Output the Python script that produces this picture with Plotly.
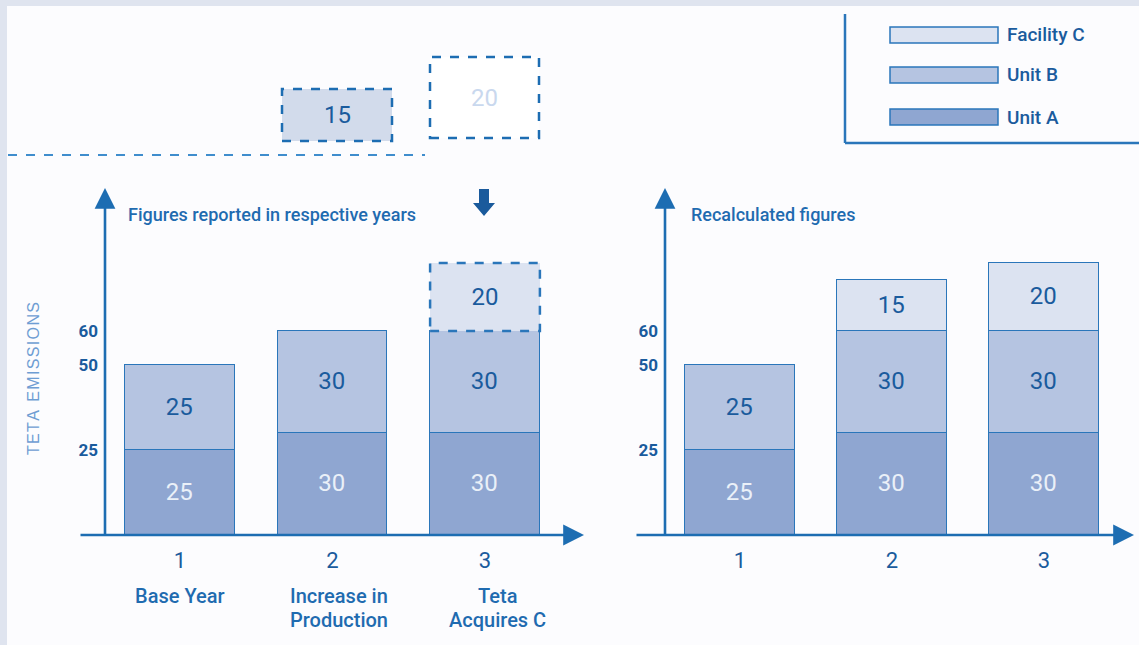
import plotly.graph_objects as go

W, H = 1139, 645

# ---------------- data ----------------
categories = ["1", "2", "3"]
descriptions = [["Base Year"], ["Increase in", "Production"], ["Teta", "Acquires C"]]
series_names = ["Unit A", "Unit B", "Facility C"]
reported_unit_a = [25, 30, 30]
reported_unit_b = [25, 30, 30]
reported_facility_c = [None, None, 20]
recalc_unit_a = [25, 30, 30]
recalc_unit_b = [25, 30, 30]
recalc_facility_c = [None, 15, 20]
y_tick_vals = [25, 50, 60]
acquired_figures = [15, 20]
panel_titles = ["Figures reported in respective years", "Recalculated figures"]
y_title = "TETA EMISSIONS"

# ---------------- style ----------------
UNIT_A = "#8fa6d1"
UNIT_B = "#b5c4e1"
FAC_C = "#dce3f1"
EDGE = "#2a76ba"
DARK = "#1a5b9d"
AXIS = "#1d6db2"
LIGHT_TXT = "#eaf0f8"
NARROW = "Roboto, Liberation Sans, sans-serif"
NUMF = "Roboto, Liberation Sans, sans-serif"
BAR_W = 0.72
xs = [1, 2, 3]
fills = [UNIT_A, UNIT_B, FAC_C]
txtcol = [LIGHT_TXT, DARK, DARK]


def px(x):
    return x / W


def py(y):
    return 1 - y / H


fig = go.Figure()

panels = [
    ("x", "y", [reported_unit_a, reported_unit_b, reported_facility_c]),
    ("x2", "y2", [recalc_unit_a, recalc_unit_b, recalc_facility_c]),
]
for pi, (xa, ya, series) in enumerate(panels):
    for si, vals in enumerate(series):
        dashed_top = (pi == 0 and si == 2)
        fig.add_trace(go.Bar(
            x=xs, y=vals, width=BAR_W, name=series_names[si],
            xaxis=xa, yaxis=ya, showlegend=False,
            marker=dict(color=fills[si],
                        line=dict(color=EDGE, width=0 if dashed_top else 1.5)),
            text=["" if v is None else str(v) for v in vals],
            textposition="inside", insidetextanchor="middle",
            textangle=0,
            textfont=dict(family=NUMF, size=24, color=txtcol[si]),
            hoverinfo="skip",
        ))

# dashed outline for the acquired facility in the reported panel
shapes = []
for i, c in enumerate(reported_facility_c):
    if c is None:
        continue
    base = reported_unit_a[i] + reported_unit_b[i]
    shapes.append(dict(type="rect", xref="x", yref="y",
                       x0=xs[i] - BAR_W / 2, x1=xs[i] + BAR_W / 2,
                       y0=base, y1=base + c,
                       line=dict(color=EDGE, width=2.5, dash="dash"),
                       fillcolor="rgba(0,0,0,0)", layer="above"))

# frame strips
shapes.append(dict(type="rect", xref="paper", yref="paper", x0=0, x1=1, y0=py(6), y1=1,
                   fillcolor="#dfe4ef", line=dict(width=0), layer="below"))
shapes.append(dict(type="rect", xref="paper", yref="paper", x0=0, x1=px(7), y0=0, y1=1,
                   fillcolor="#dfe4ef", line=dict(width=0), layer="below"))

# top dashed line
shapes.append(dict(type="line", xref="paper", yref="paper", x0=px(8), x1=px(425),
                   y0=py(155), y1=py(155), line=dict(color="#3f8dcd", width=2.2, dash="dash")))


def label(x, y, text, size, color, family, xanchor="center", xref="paper", xshift=0, weight="normal"):
    return dict(x=x, y=py(y), xref=xref, yref="paper", text=text, showarrow=False,
                xanchor=xanchor, yanchor="middle", xshift=xshift,
                font=dict(family=family, size=size, color=color, weight=weight))


# acquired figures boxes
boxes = [(282, 392, 89, 141, "#d2dbeb", DARK), (430, 539, 57, 138, "#ffffff", "#c9d8ee")]
annotations = []
for (x0, x1, y0, y1, fc, tc), v in zip(boxes, acquired_figures):
    shapes.append(dict(type="rect", xref="paper", yref="paper", x0=px(x0), x1=px(x1),
                       y0=py(y1), y1=py(y0), fillcolor=fc,
                       line=dict(color=AXIS, width=2.5, dash="dash")))
    annotations.append(label(px((x0 + x1) / 2), (y0 + y1) / 2, str(v), 24, tc, NUMF))

# legend box
shapes.append(dict(type="line", xref="paper", yref="paper", x0=px(845), x1=px(845),
                   y0=py(143), y1=py(14), line=dict(color=EDGE, width=2.5)))
shapes.append(dict(type="line", xref="paper", yref="paper", x0=px(845), x1=px(1139),
                   y0=py(143), y1=py(143), line=dict(color=EDGE, width=2.5)))
legend_rows = [("Facility C", FAC_C, 35), ("Unit B", UNIT_B, 75), ("Unit A", UNIT_A, 117)]
for name, col, yc in legend_rows:
    shapes.append(dict(type="rect", xref="paper", yref="paper", x0=px(890), x1=px(998),
                       y0=py(yc + 8), y1=py(yc - 8), fillcolor=col,
                       line=dict(color=EDGE, width=1.5)))
    annotations.append(label(px(1005), yc, name, 19, DARK, NARROW, xanchor="left", weight=500))

# down arrow (block)
ax_c = 484
path = (f"M {px(ax_c-5)},{py(189)} L {px(ax_c+5)},{py(189)} L {px(ax_c+5)},{py(203)} "
        f"L {px(ax_c+11)},{py(203)} L {px(ax_c)},{py(216)} L {px(ax_c-11)},{py(203)} "
        f"L {px(ax_c-5)},{py(203)} Z")
shapes.append(dict(type="path", xref="paper", yref="paper", path=path,
                   fillcolor="#1a5a9c", line=dict(width=0)))


# axes arrows
def arrow(x_head, y_head, x_tail, y_tail):
    return dict(x=px(x_head), y=py(y_head), xref="paper", yref="paper",
                ax=x_tail - x_head, ay=y_tail - y_head, axref="pixel", ayref="pixel",
                showarrow=True, arrowhead=2, arrowsize=1.6, arrowwidth=2.6,
                arrowcolor=AXIS, text="")


annotations += [
    arrow(584, 535, 79, 535), arrow(105, 188, 105, 536),
    arrow(1134, 535, 635, 535), arrow(665, 188, 665, 536),
]

# panel titles
for t, x in zip(panel_titles, [126, 689]):
    annotations.append(label(px(x), 215, t, 18, "#1f6bb0", NARROW, xanchor="left", weight=500))

# category descriptions
for i, (lines, sh) in enumerate(zip(descriptions, [0, 6, 12])):
    for li, line in enumerate(lines):
        annotations.append(label(xs[i], 596 + 24 * li, line, 20, "#1f6bb0", NARROW,
                                 xref="x", xshift=sh, weight=500))

# vertical axis title
spaced = "\u200a".join(list(y_title)).replace("\u200a \u200a", "\u200a\u200a \u200a")
annotations.append(dict(x=px(33), y=py(379), xref="paper", yref="paper", text=spaced,
                        showarrow=False, textangle=-90, xanchor="center", yanchor="middle",
                        font=dict(family="Liberation Sans, sans-serif", size=16, color="#6e9dd3")))

yr = [0, (535 - 190) / 3.4]
common_y = dict(range=yr, domain=[py(535), py(190)], showgrid=False, zeroline=False,
                showline=False, tickvals=y_tick_vals, ticktext=[str(v) for v in y_tick_vals],
                ticks="", ticklabelstandoff=6,
                tickfont=dict(family=NARROW, size=17, color=DARK, weight="bold"))
common_x = dict(showgrid=False, zeroline=False, showline=False, tickvals=xs,
                ticktext=categories, ticks="", ticklabelstandoff=10,
                tickfont=dict(family=NUMF, size=22, color=DARK))

fig.update_layout(
    width=W, height=H, margin=dict(l=0, r=0, t=0, b=0),
    paper_bgcolor="#fcfcfe", plot_bgcolor="rgba(0,0,0,0)",
    barmode="stack", bargap=0,
    xaxis=dict(domain=[px(105), px(582)], range=[1 - 75 / 152.5, 3 + 97 / 152.5], **common_x),
    yaxis=dict(anchor="x", **common_y),
    xaxis2=dict(domain=[px(665), px(1132)], range=[1 - 75 / 152, 3 + 88 / 152], anchor="y2", **common_x),
    yaxis2=dict(anchor="x2", **common_y),
    shapes=shapes, annotations=annotations, showlegend=False,
    uniformtext=dict(minsize=10, mode="show"),
)

fig.write_html("out.html")
